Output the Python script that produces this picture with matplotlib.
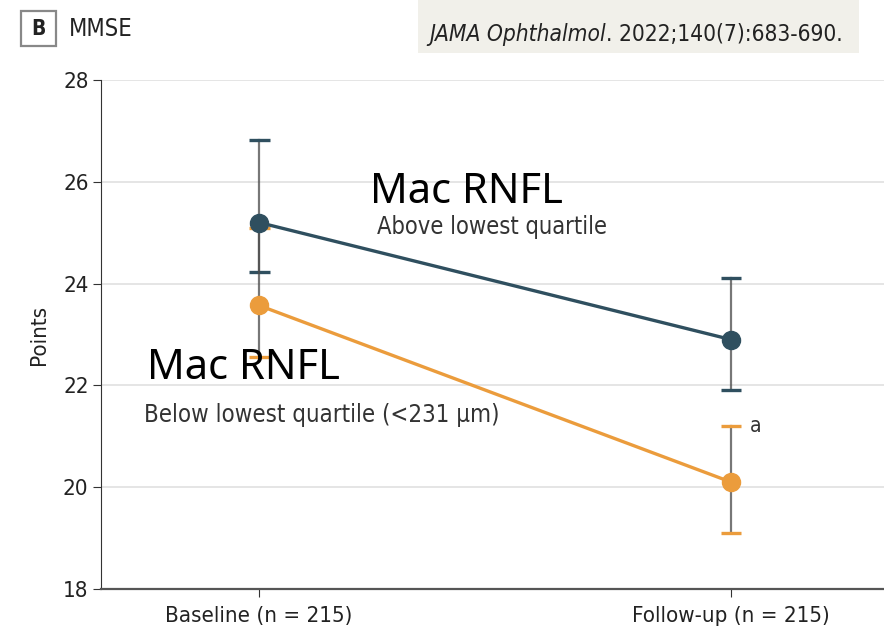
import matplotlib.pyplot as plt
from matplotlib.patches import Rectangle

# ── Data ──────────────────────────────────────────────────────────────────────
timepoints = ["Baseline (n = 215)", "Follow-up (n = 215)"]
above_mean = [25.2, 22.9]
above_hi = [26.82, 24.11]
above_lo = [24.22, 21.91]
below_mean = [23.57, 20.1]
below_hi = [25.1, 21.2]
below_lo = [22.55, 19.1]

# ── Style ─────────────────────────────────────────────────────────────────────
DARK = "#2f4f5f"
ORANGE = "#eb9c3c"
BAR = "#4a4a4a"
GRID = "#e3e3e3"

plt.rcParams["font.family"] = ["DejaVu Sans"]
plt.rcParams["font.stretch"] = "condensed"

fig = plt.figure(figsize=(8.84, 6.31), dpi=100)
ax = fig.add_axes([0.1143, 0.0666, 0.8857, 0.8066])

x = [0, 1]
CAP = 0.022

# error bars: grey stems, series-coloured caps
for lo, hi, col in [(above_lo, above_hi, DARK), (below_lo, below_hi, ORANGE)]:
    for xi, l, h in zip(x, lo, hi):
        ax.plot([xi, xi], [l, h], color=BAR, lw=1.6, alpha=0.75, zorder=2)
        for yv in (l, h):
            ax.plot([xi - CAP, xi + CAP], [yv, yv], color=col, lw=2.4, zorder=2,
                    solid_capstyle="butt")

ax.plot(x, below_mean, color=ORANGE, lw=2.4, marker="o", markersize=13, zorder=3)
ax.plot(x, above_mean, color=DARK, lw=2.4, marker="o", markersize=13, zorder=4)

ax.text(1.04, below_hi[1], "a", fontsize=15, va="center", ha="left", color="#333333")

# series labels
WIDE = ["Noto Sans", "DejaVu Sans"]
ax.text(0.235, 25.58, "Mac RNFL", fontsize=30, family=WIDE, stretch="normal",
        color="black", va="baseline")
ax.text(0.25, 24.97, "Above lowest quartile", fontsize=17, color="#333333", va="baseline")
ax.text(-0.237, 22.13, "Mac RNFL", fontsize=30, family=WIDE, stretch="normal",
        color="black", va="baseline")
ax.text(-0.245, 21.28, "Below lowest quartile (<231 µm)", fontsize=17.2, color="#333333",
        va="baseline")

# ── Axes ──────────────────────────────────────────────────────────────────────
ax.set_xlim(-0.335, 1.324)
ax.set_ylim(18, 28)
ax.set_yticks(range(18, 29, 2))
ax.set_xticks(x)
ax.set_xticklabels(timepoints)
ax.yaxis.grid(True, color=GRID, lw=1.3)
ax.set_axisbelow(True)
for side in ["top", "right"]:
    ax.spines[side].set_visible(False)
ax.spines["left"].set_color("#333333")
ax.spines["bottom"].set_color("#555555")
ax.spines["bottom"].set_linewidth(1.6)
ax.tick_params(axis="both", labelsize=16, color="#333333", labelcolor="#222222", length=6)
ax.tick_params(axis="y", pad=3)
ax.tick_params(axis="x", pad=6)
ax.set_ylabel("Points", fontsize=16, labelpad=10, color="#222222")

# ── Header ────────────────────────────────────────────────────────────────────
fig.patches.append(Rectangle((21 / 884, 1 - 46 / 631), 35 / 884, 35 / 631,
                             transform=fig.transFigure, fill=False, ec="#888888", lw=1.6))
fig.text(38.5 / 884, 1 - 29 / 631, "B", fontsize=15, fontweight="bold", color="#222222",
         ha="center", va="center")
fig.text(69 / 884, 1 - 29 / 631, "MMSE", fontsize=17, ha="left", va="center",
         color="#222222")
fig.patches.append(Rectangle((418 / 884, 1 - 53 / 631), 441 / 884, 53 / 631,
                             transform=fig.transFigure, color="#f1f0ea", lw=0))

# citation: italic journal name followed by upright volume details
journal = fig.text(429 / 884, 1 - 34 / 631, "JAMA Ophthalmol", fontsize=16.3,
                   style="italic", ha="left", va="center", color="#222222")
fig.canvas.draw()
bb = journal.get_window_extent(renderer=fig.canvas.get_renderer())
fig.text(bb.x1 / fig.bbox.width, 1 - 34 / 631, ". 2022;140(7):683-690.", fontsize=16.3,
         ha="left", va="center", color="#222222")

plt.savefig("out.png", dpi=100)
